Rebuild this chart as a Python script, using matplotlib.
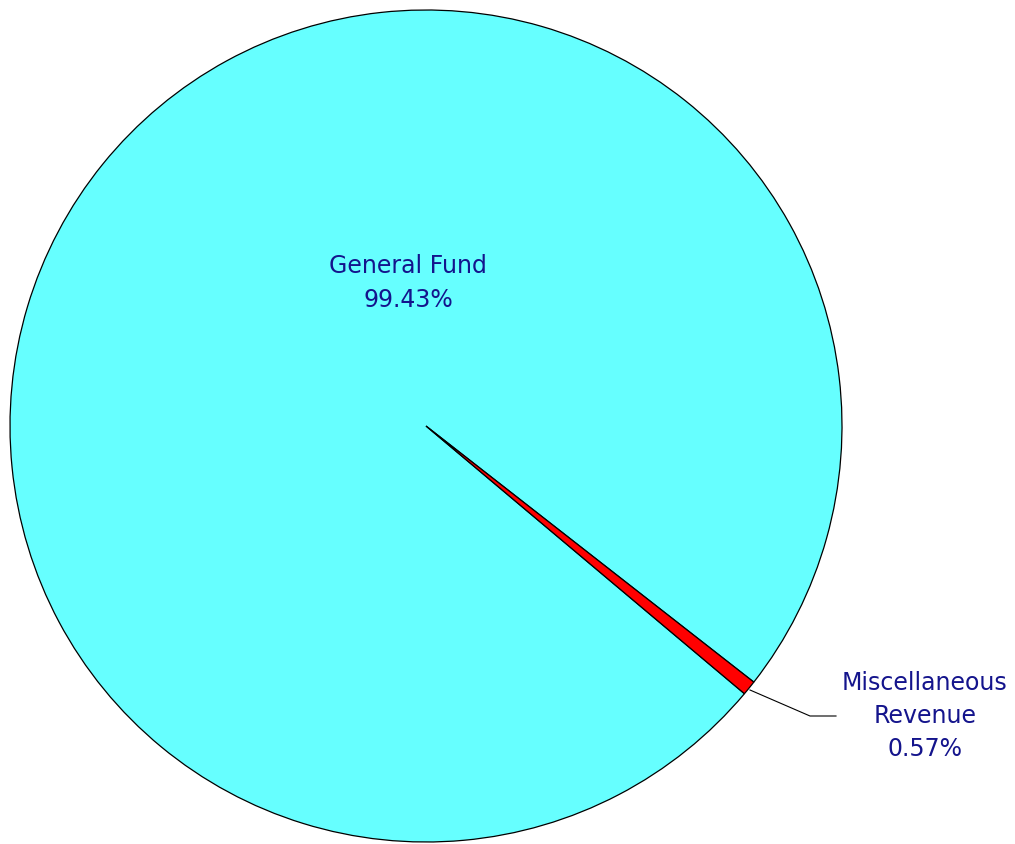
import matplotlib
matplotlib.use("Agg")
import matplotlib.pyplot as plt

categories = ["General Fund", "Miscellaneous\nRevenue"]
values = [99.43, 0.57]
colors = ["#66ffff", "#ff0000"]
pct_labels = ["99.43%", "0.57%"]

W, H = 1015, 844
fig = plt.figure(figsize=(W / 100, H / 100), dpi=100)
ax = fig.add_axes([0, 0, 1, 1])

cx, cy, r = 426, H - 426, 416
wedges, _ = ax.pie(values, colors=colors, startangle=-38, counterclock=True,
                   center=(cx, cy), radius=r, frame=True,
                   wedgeprops=dict(edgecolor="black", linewidth=0.9))
ax.set_xlim(0, W)
ax.set_ylim(0, H)
ax.set_aspect("equal")
ax.axis("off")

txt_color = "#14148c"
ax.text(408, H - 283, f"{categories[0]}\n{pct_labels[0]}", ha="center", va="center",
        fontsize=17, color=txt_color, linespacing=1.5, family="DejaVu Sans")
ax.text(925, H - 716, f"{categories[1]}\n{pct_labels[1]}", ha="center", va="center",
        fontsize=17, color=txt_color, linespacing=1.5, family="DejaVu Sans")
ax.plot([750, 810, 836], [H - 690, H - 716, H - 716], color="black", linewidth=0.8)

fig.savefig("out.png", dpi=100)
